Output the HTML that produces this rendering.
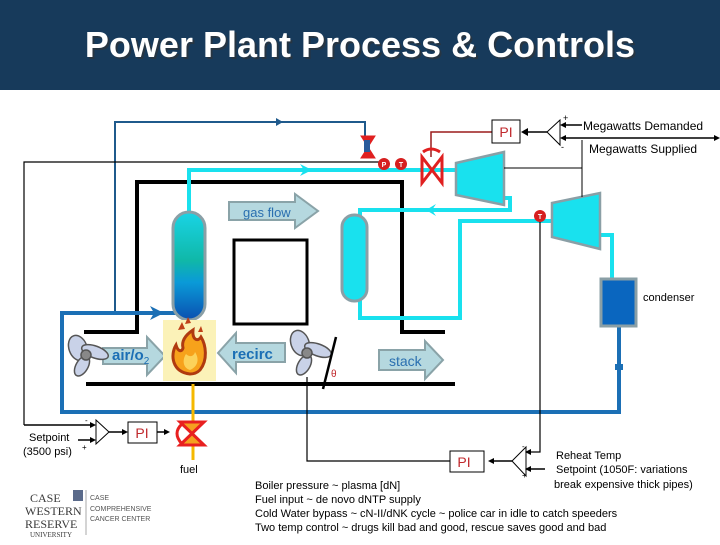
<!DOCTYPE html>
<html><head><meta charset="utf-8"><style>
body{margin:0;width:720px;height:540px;overflow:hidden;background:#fff;font-family:"Liberation Sans",sans-serif}
</style></head><body>
<svg width="720" height="540" viewBox="0 0 720 540" xmlns="http://www.w3.org/2000/svg" font-family="Liberation Sans, sans-serif">
<defs>
<linearGradient id="dg" x1="0" y1="0" x2="0" y2="1"><stop offset="0" stop-color="#19d4e6"/><stop offset="0.45" stop-color="#10b8a8"/><stop offset="0.65" stop-color="#0a9ad8"/><stop offset="1" stop-color="#0a4fb0"/></linearGradient>
</defs>
<rect x="0" y="0" width="720" height="90" fill="#173a5b"/>
<text x="362" y="59" font-size="36" font-weight="bold" fill="#333" text-anchor="middle" opacity="0.6">Power Plant Process &amp; Controls</text>
<text x="360" y="57" font-size="36" font-weight="bold" fill="#fff" text-anchor="middle">Power Plant Process &amp; Controls</text>

<polyline points="115,313 115,122 365,122 365,140" fill="none" stroke="#1f5a8c" stroke-width="2"/>
<polygon points="276,118 283,122 276,126" fill="#1f5a8c"/>
<polyline points="24,425 24,162 384,162" fill="none" stroke="#000" stroke-width="1.2"/>
<line x1="24" y1="425" x2="92" y2="425" stroke="#000" stroke-width="1.5"/>

<polyline points="84,332 137,332 137,182 402,182 402,332 445,332" fill="none" stroke="#000" stroke-width="4"/>
<line x1="86" y1="384" x2="455" y2="384" stroke="#000" stroke-width="4"/>
<rect x="234" y="240" width="73" height="84" fill="none" stroke="#000" stroke-width="3"/>

<polyline points="178,313 62,313 62,412 619,412 619,327" fill="none" stroke="#1b6fb5" stroke-width="4"/>
<polygon points="150,306 164,313 150,320 154,313" fill="#1b6fb5"/>
<rect x="615" y="364" width="8" height="6" fill="#1b6fb5"/>

<g fill="none" stroke="#19e1ee" stroke-width="4">
<polyline points="189,214 189,170 456,170"/>
<polyline points="504,198 510,198 510,210 360,210 360,318 460,318 460,221 553,221"/>
<polyline points="600,235 612,235 612,280"/>
</g>
<polygon points="300,164 312,170 300,176 304,170" fill="#19e1ee"/>
<polygon points="436,204 426,210 436,216 432,210" fill="#19e1ee"/>

<rect x="173" y="212" width="32" height="108" rx="16" fill="url(#dg)" stroke="#8a9fa6" stroke-width="3"/>
<rect x="342" y="215" width="25" height="86" rx="12" fill="#19e1ee" stroke="#8a9fa6" stroke-width="3"/>

<polygon points="456,163 504,152 504,205 456,195" fill="#19e1ee" stroke="#8a9fa6" stroke-width="2.5"/>
<polygon points="552,203 600,193 600,249 552,237" fill="#19e1ee" stroke="#8a9fa6" stroke-width="2.5"/>
<polyline points="504,168 582,168" stroke="#000" stroke-width="1"/>
<line x1="582" y1="140" x2="582" y2="197" stroke="#000" stroke-width="1"/>
<rect x="601" y="279" width="35" height="47" fill="#0a66bf" stroke="#8a9fa6" stroke-width="3"/>
<text x="643" y="301" font-size="11">condenser</text>

<g font-size="7" fill="#fff" text-anchor="middle" font-weight="bold">
<circle cx="384" cy="164" r="6" fill="#d61f1f"/><text x="384" y="167">P</text>
<circle cx="401" cy="164" r="6" fill="#d61f1f"/><text x="401" y="167">T</text>
<circle cx="540" cy="216" r="6" fill="#d61f1f"/><text x="540" y="219">T</text>
</g>
<polyline points="431,157 431,132 492,132" fill="none" stroke="#9b1b1b" stroke-width="1.5"/>
<path d="M422,157 L442,183 L442,157 L422,183 Z" fill="none" stroke="#e02020" stroke-width="3"/>
<path d="M423,152 Q431,146 440,152" fill="none" stroke="#e02020" stroke-width="3"/>
<path d="M361,136 L375,158 L361,158 L375,136 Z" fill="#e02020" stroke="#e02020" stroke-width="1"/>
<rect x="364" y="140" width="6" height="12" fill="#2a5a9a"/>

<rect x="492" y="120" width="28" height="23" fill="#fff" stroke="#000" stroke-width="1"/>
<text x="506" y="137" font-size="14" fill="#c0282c" text-anchor="middle">PI</text>
<polygon points="560,120 547,132 560,145" fill="#fff" stroke="#000" stroke-width="1"/>
<line x1="547" y1="132" x2="525" y2="132" stroke="#000" stroke-width="1.5"/>
<polygon points="521,132 528,128 528,136" fill="#000"/>
<line x1="562" y1="125" x2="582" y2="125" stroke="#000" stroke-width="1.5"/>
<polygon points="560,125 566,122 566,128" fill="#000"/>
<line x1="562" y1="138" x2="716" y2="138" stroke="#000" stroke-width="1.5"/>
<polygon points="560,138 566,135 566,141" fill="#000"/>
<polygon points="720,138 714,135 714,141" fill="#000"/>
<text x="563" y="121" font-size="9">+</text><text x="561" y="150" font-size="9">-</text>
<text x="583" y="130" font-size="12">Megawatts Demanded</text>
<text x="589" y="153" font-size="12">Megawatts Supplied</text>

<g fill="#b5d8df" stroke="#8aa3a8" stroke-width="2">
<polygon points="229,202 295,202 295,194 318,211 295,228 295,220 229,220"/>
<polygon points="103,348 147,348 147,337 165,356 147,375 147,364 103,364"/>
<polygon points="285,343 236,343 236,333 218,353 236,373 236,362 285,362"/>
<polygon points="379,350 425,350 425,341 443,360 425,379 425,370 379,370"/>
</g>
<text x="243" y="217" font-size="13" fill="#2a6fb0">gas flow</text>
<text x="112" y="360" font-size="15" font-weight="bold" fill="#1b6fb5">air/o<tspan font-size="10" dy="4" font-weight="normal">2</tspan></text>
<text x="232" y="359" font-size="15" font-weight="bold" fill="#1b6fb5">recirc</text>
<text x="389" y="366" font-size="14" fill="#2a6fb0">stack</text>

<g stroke="#555" stroke-width="1.5" fill="#c9d2e8">
<ellipse cx="78" cy="348" rx="9" ry="13" transform="rotate(-20 78 348)"/>
<ellipse cx="95" cy="352" rx="14" ry="6" transform="rotate(20 95 352)"/>
<ellipse cx="82" cy="366" rx="6" ry="11" transform="rotate(30 82 366)"/>
<circle cx="86" cy="355" r="5" fill="#888"/>
<ellipse cx="300" cy="343" rx="9" ry="13" transform="rotate(-20 300 343)"/>
<ellipse cx="318" cy="350" rx="14" ry="6" transform="rotate(20 318 350)"/>
<ellipse cx="304" cy="365" rx="6" ry="11" transform="rotate(30 304 365)"/>
<circle cx="307" cy="353" r="5" fill="#888"/>
</g>
<rect x="163" y="320" width="53" height="61" fill="#fbf2b8"/>
<path d="M190,374 C172,372 170,355 176,345 C178,352 182,352 183,348 C181,340 187,334 193,330 C192,340 198,342 201,337 C206,345 208,360 200,370 C197,373 194,374 190,374 Z" fill="#f7a21b" stroke="#b03a10" stroke-width="3"/>
<path d="M190,370 C183,368 182,360 186,354 C190,358 194,356 195,352 C199,358 199,366 190,370 Z" fill="#fcd25a"/>
<path d="M178,330 l4,-8 l3,7 z M185,324 l3,-7 l3,6 z M198,332 l3,-6 l2,6 z" fill="#c04018"/>

<line x1="336" y1="337" x2="323" y2="389" stroke="#000" stroke-width="2.5"/>
<text x="331" y="377" font-size="10" fill="#c0282c">θ</text>
<line x1="193" y1="384" x2="193" y2="460" stroke="#f5b800" stroke-width="3"/>
<path d="M180,422 L204,422 L180,445 L204,445 Z" fill="#f5a020" stroke="#e82020" stroke-width="3"/>
<path d="M182,424 Q172,433 182,444" fill="none" stroke="#e82020" stroke-width="3"/>
<text x="180" y="473" font-size="11">fuel</text>

<polygon points="96,420 109,432 96,444" fill="#fff" stroke="#000" stroke-width="1"/>
<polygon points="96,425 90,422 90,428" fill="#000"/>
<line x1="78" y1="440" x2="92" y2="440" stroke="#000" stroke-width="1.5"/>
<polygon points="96,440 90,437 90,443" fill="#000"/>
<text x="85" y="423" font-size="8">-</text><text x="82" y="450" font-size="8">+</text>
<text x="29" y="441" font-size="11">Setpoint</text>
<text x="23" y="455" font-size="11">(3500 psi)</text>
<line x1="109" y1="432" x2="124" y2="432" stroke="#000" stroke-width="1.5"/>
<polygon points="128,432 122,429 122,435" fill="#000"/>
<rect x="128" y="422" width="29" height="21" fill="#fff" stroke="#000" stroke-width="1"/>
<text x="142" y="438" font-size="14" fill="#c0282c" text-anchor="middle">PI</text>
<line x1="157" y1="432" x2="166" y2="432" stroke="#000" stroke-width="1.5"/>
<polygon points="170,432 164,429 164,435" fill="#000"/>

<polyline points="307,377 307,461 450,461" fill="none" stroke="#000" stroke-width="1.2"/>
<polyline points="540,222 540,452 528,452" fill="none" stroke="#000" stroke-width="1.2"/>
<rect x="450" y="451" width="34" height="21" fill="#fff" stroke="#000" stroke-width="1"/>
<text x="464" y="467" font-size="14" fill="#c0282c" text-anchor="middle">PI</text>
<polygon points="526,447 512,461 526,476" fill="#fff" stroke="#000" stroke-width="1"/>
<line x1="512" y1="461" x2="492" y2="461" stroke="#000" stroke-width="1.5"/>
<polygon points="488,461 494,458 494,464" fill="#000"/>
<polygon points="525,452 531,449 531,455" fill="#000"/>
<line x1="528" y1="469" x2="545" y2="469" stroke="#000" stroke-width="1.5"/>
<polygon points="525,469 531,466 531,472" fill="#000"/>
<text x="522" y="449" font-size="8">-</text><text x="522" y="478" font-size="8">+</text>
<text x="556" y="459" font-size="11">Reheat Temp</text>
<text x="556" y="473" font-size="11">Setpoint (1050F: variations</text>
<text x="554" y="488" font-size="11">break expensive thick pipes)</text>

<g font-size="11">
<text x="255" y="489">Boiler pressure ~ plasma [dN]</text>
<text x="255" y="503">Fuel input  ~ de novo dNTP supply</text>
<text x="255" y="517">Cold Water bypass ~ cN-II/dNK cycle ~ police car in idle to catch speeders</text>
<text x="255" y="531">Two temp control ~ drugs kill bad and good, rescue saves good and bad</text>
</g>

<g font-family="Liberation Serif, serif" fill="#3a3a3a">
<text x="30" y="502" font-size="12">CASE</text>
<text x="25" y="515" font-size="12">WESTERN</text>
<text x="25" y="528" font-size="12">RESERVE</text>
<text x="30" y="537" font-size="7">UNIVERSITY</text>
</g>
<rect x="73" y="490" width="10" height="11" fill="#5a6a8a"/>
<line x1="86" y1="490" x2="86" y2="535" stroke="#aaa" stroke-width="1"/>
<g font-size="7" fill="#555">
<text x="90" y="500">CASE</text>
<text x="90" y="511">COMPREHENSIVE</text>
<text x="90" y="521">CANCER CENTER</text>
</g>
</svg>
</body></html>
